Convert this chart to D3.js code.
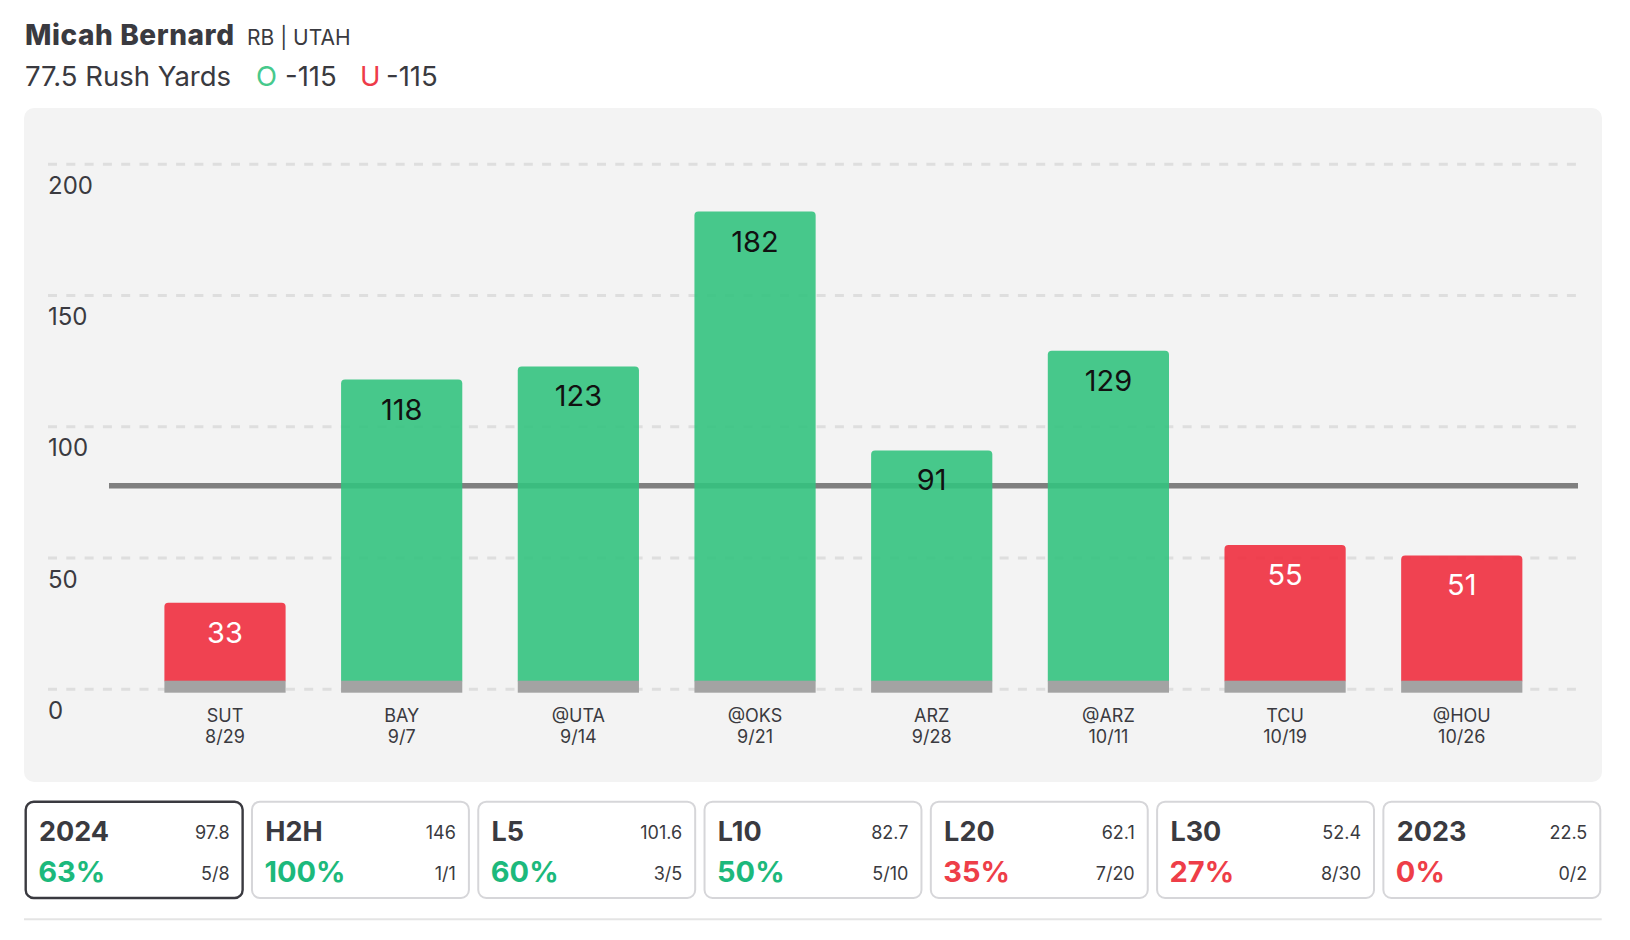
<!DOCTYPE html>
<html>
<head>
<meta charset="utf-8">
<script src="https://cdn.jsdelivr.net/npm/d3@7"></script>
<style>
  html, body { margin: 0; padding: 0; background: #ffffff; }
  svg { display: block; font-family: Inter, "Noto Sans", sans-serif; }
</style>
</head>
<body>
<svg id="chart" width="1630" height="940"></svg>
<script>
// ---------- data ----------
const playerName = "Micah Bernard";
const playerInfo = "RB | UTAH";
const propLabel = "77.5 Rush Yards";
const overOdds = "-115";
const underOdds = "-115";
const propLine = 77.5;

const opponents = ["SUT", "BAY", "@UTA", "@OKS", "ARZ", "@ARZ", "TCU", "@HOU"];
const gameDates = ["8/29", "9/7", "9/14", "9/21", "9/28", "10/11", "10/19", "10/26"];
const rushYards = [33, 118, 123, 182, 91, 129, 55, 51];
const yTicks = [0, 50, 100, 150, 200];

const cardLabels = ["2024", "H2H", "L5", "L10", "L20", "L30", "2023"];
const cardAverages = ["97.8", "146", "101.6", "82.7", "62.1", "52.4", "22.5"];
const cardHitPct = [63, 100, 60, 50, 35, 27, 0];
const cardHitCounts = ["5/8", "1/1", "3/5", "5/10", "7/20", "8/30", "0/2"];

// ---------- style ----------
const GREEN = "#47c98c", RED = "#ee3b49", DARK = "#3a3a40";
const TXT_GREEN = "#1cb97c", TXT_RED = "#ee3e48";

const svg = d3.select("#chart");

// header
svg.append("text").attr("x", 25).attr("y", 44.5)
  .attr("font-size", 28).attr("font-weight", 800).attr("fill", DARK)
  .attr("textLength", 209).attr("lengthAdjust", "spacing").text(playerName);
svg.append("text").attr("x", 247).attr("y", 44.5)
  .attr("font-size", 21).attr("fill", DARK).text(playerInfo);
svg.append("text").attr("x", 25).attr("y", 86)
  .attr("font-size", 27.5).attr("fill", DARK).text(propLabel);
svg.append("text").attr("x", 256).attr("y", 86)
  .attr("font-size", 27.5).attr("fill", GREEN).text("O");
svg.append("text").attr("x", 285).attr("y", 86)
  .attr("font-size", 27.5).attr("fill", DARK).text(overOdds);
svg.append("text").attr("x", 360).attr("y", 86)
  .attr("font-size", 27.5).attr("fill", RED).text("U");
svg.append("text").attr("x", 386).attr("y", 86)
  .attr("font-size", 27.5).attr("fill", DARK).text(underOdds);

// panel
svg.append("rect").attr("x", 24).attr("y", 108).attr("width", 1578).attr("height", 674)
  .attr("rx", 10).attr("fill", "#f3f3f3");

// scales
const y = d3.scaleLinear().domain([0, 200]).range([689.3, 164.3]);
const x = d3.scaleBand().domain(opponents).range([136.66, 1550.1])
  .paddingInner(0.314).paddingOuter(0.157);

// grid
const grid = svg.append("g");
grid.selectAll("line").data(yTicks).join("line")
  .attr("x1", 48).attr("x2", 1578)
  .attr("y1", d => y(d)).attr("y2", d => y(d))
  .attr("stroke", "#dedede").attr("stroke-width", 3).attr("stroke-dasharray", "9,9.3");

// y axis labels (below gridlines)
const yAxis = d3.axisLeft(y).tickValues(yTicks).tickSize(0).tickPadding(0);
const yG = svg.append("g").attr("transform", "translate(48,0)").call(yAxis);
yG.select(".domain").remove();
yG.selectAll("text").attr("text-anchor", "start").attr("x", 0).attr("dy", null)
  .attr("y", 29).attr("font-size", 24).attr("font-family", "Inter, sans-serif").attr("fill", DARK);

// prop line
svg.append("line").attr("x1", 109).attr("x2", 1578)
  .attr("y1", y(propLine)).attr("y2", y(propLine))
  .attr("stroke", "#7f7f7f").attr("stroke-width", 5.5);

// bars
const bw = x.bandwidth();
const r = 4;
function barPath(d, i) {
  const x0 = x(opponents[i]), x1 = x0 + bw, top = y(d), bot = y(0) - 8;
  return `M${x0},${bot} L${x0},${top + r} Q${x0},${top} ${x0 + r},${top} L${x1 - r},${top} Q${x1},${top} ${x1},${top + r} L${x1},${bot} Z`;
}
const bars = svg.append("g");
bars.selectAll("path").data(rushYards).join("path")
  .attr("d", barPath)
  .attr("fill", d => d > propLine ? "#34c380" : "#ef2f3f")
  .attr("fill-opacity", 0.9);
bars.selectAll("rect.base").data(rushYards).join("rect").attr("class", "base")
  .attr("x", (d, i) => x(opponents[i])).attr("width", bw)
  .attr("y", y(0) - 8.6).attr("height", 12)
  .attr("fill", "#a3a3a3");

// value labels
svg.append("g").selectAll("text").data(rushYards).join("text")
  .attr("x", (d, i) => x(opponents[i]) + bw / 2)
  .attr("y", d => y(d) + 40)
  .attr("text-anchor", "middle").attr("font-size", 29)
  .attr("fill", d => d > propLine ? "#111111" : "#ffffff")
  .text(d => d);

// x labels
const xl = svg.append("g");
xl.selectAll("text.opp").data(opponents).join("text").attr("class", "opp")
  .attr("x", d => x(d) + bw / 2).attr("y", 721.7)
  .attr("text-anchor", "middle").attr("font-size", 18).attr("fill", DARK).text(d => d);
xl.selectAll("text.date").data(gameDates).join("text").attr("class", "date")
  .attr("x", (d, i) => x(opponents[i]) + bw / 2).attr("y", 743)
  .attr("text-anchor", "middle").attr("font-size", 18).attr("fill", DARK).text(d => d);

// cards
const cx = d3.scaleBand().domain(cardLabels).range([24.7, 1601.3]).paddingInner(0.0325).paddingOuter(0);
const cw = cx.bandwidth();
const cards = svg.append("g").selectAll("g").data(cardLabels).join("g")
  .attr("transform", d => `translate(${cx(d)},800.7)`);
cards.append("rect").attr("x", 1).attr("y", 1).attr("width", cw - 2).attr("height", 96.3)
  .attr("rx", 8).attr("fill", "#ffffff")
  .attr("stroke", (d, i) => i === 0 ? DARK : "#d6d6d9").attr("stroke-width", (d, i) => i === 0 ? 2.4 : 2);
cards.append("text").attr("x", 14.3).attr("y", 40)
  .attr("font-size", 27).attr("font-weight", 700).attr("fill", DARK).text(d => d);
cards.append("text").attr("x", cw - 14).attr("y", 38).attr("text-anchor", "end")
  .attr("font-size", 18).attr("fill", DARK).text((d, i) => cardAverages[i]);
cards.append("text").attr("x", 13.5).attr("y", 81.5)
  .attr("font-size", 29).attr("font-weight", 700)
  .attr("fill", (d, i) => cardHitPct[i] >= 50 ? TXT_GREEN : TXT_RED)
  .text((d, i) => cardHitPct[i] + "%");
cards.append("text").attr("x", cw - 14).attr("y", 79.5).attr("text-anchor", "end")
  .attr("font-size", 18).attr("fill", DARK).text((d, i) => cardHitCounts[i]);

// bottom rule
svg.append("line").attr("x1", 24).attr("x2", 1601.7).attr("y1", 919.3).attr("y2", 919.3)
  .attr("stroke", "#e4e4e4").attr("stroke-width", 2);
</script>
</body>
</html>
